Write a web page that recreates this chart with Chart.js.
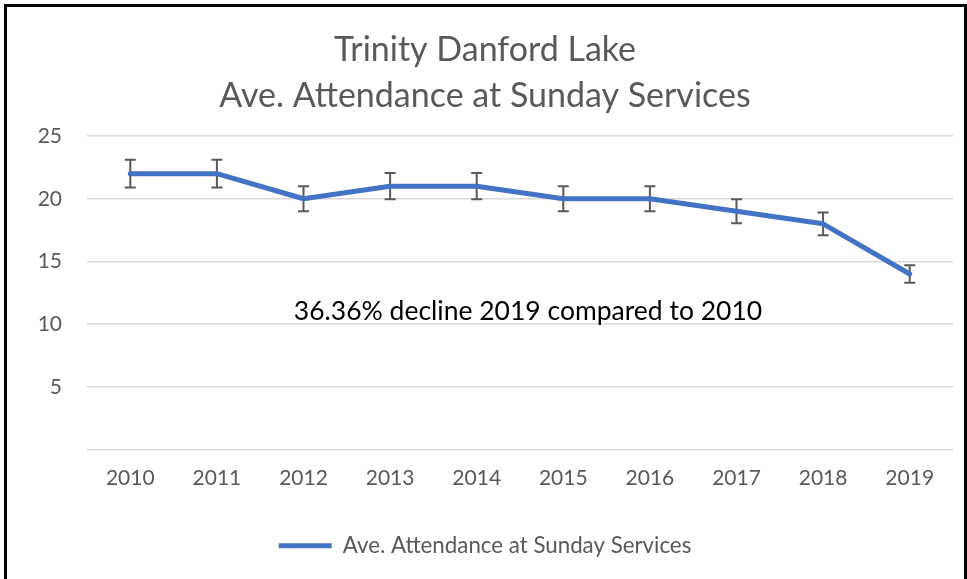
<!DOCTYPE html>
<html>
<head>
<meta charset="utf-8">
<script src="https://cdn.jsdelivr.net/npm/chart.js@4.4.1/dist/chart.umd.min.js"></script>
<style>
  html, body { margin: 0; padding: 0; background: #fff; }
  #wrap { width: 967px; height: 579px; position: relative; }
</style>
</head>
<body>
<div id="wrap"><canvas id="c" width="967" height="579"></canvas></div>
<script>
const years = ['2010', '2011', '2012', '2013', '2014', '2015', '2016', '2017', '2018', '2019'];
const attendance = [22, 22, 20, 21, 21, 20, 20, 19, 18, 14];
const errorAmounts = [1.1, 1.1, 1.0, 1.05, 1.05, 1.0, 1.0, 0.95, 0.9, 0.7];
const yTicks = [0, 5, 10, 15, 20, 25];
const titleLines = ['Trinity Danford Lake', 'Ave. Attendance at Sunday Services'];
const seriesName = 'Ave. Attendance at Sunday Services';
const annotationText = '36.36% decline 2019 compared to 2010';

const FONT = 'Lato, "Open Sans", sans-serif';
const GREY = '#595959';

const frameAndNotes = {
  id: 'frameAndNotes',
  beforeDatasetsDraw(chart) {
    const ctx = chart.ctx;
    const xs = chart.scales.x, ys = chart.scales.y;
    ctx.save();
    ctx.strokeStyle = '#595959';
    ctx.lineWidth = 2;
    attendance.forEach((v, i) => {
      const x = xs.getPixelForValue(i);
      const yTop = ys.getPixelForValue(v + errorAmounts[i]);
      const yBot = ys.getPixelForValue(v - errorAmounts[i]);
      ctx.beginPath();
      ctx.moveTo(x, yTop); ctx.lineTo(x, yBot);
      ctx.moveTo(x - 5.5, yTop); ctx.lineTo(x + 5.5, yTop);
      ctx.moveTo(x - 5.5, yBot); ctx.lineTo(x + 5.5, yBot);
      ctx.stroke();
    });
    ctx.restore();
  },
  afterDraw(chart) {
    const ctx = chart.ctx;
    ctx.save();
    ctx.fillStyle = '#000';
    ctx.font = '26.5px ' + FONT;
    ctx.textAlign = 'center';
    ctx.textBaseline = 'middle';
    ctx.fillText(annotationText, 528, 311);
    ctx.strokeStyle = '#000';
    ctx.lineWidth = 3;
    ctx.strokeRect(5.5, 5.5, 960, 620);
    ctx.restore();
  }
};

new Chart(document.getElementById('c'), {
  type: 'line',
  data: {
    labels: years,
    datasets: [{
      label: seriesName,
      data: attendance,
      borderColor: '#4472C4',
      backgroundColor: '#4472C4',
      borderWidth: 5,
      borderCapStyle: 'round',
      borderJoinStyle: 'round',
      pointRadius: 0,
      pointHoverRadius: 0,
      tension: 0,
      fill: false
    }]
  },
  options: {
    responsive: false,
    animation: false,
    devicePixelRatio: 1,
    layout: { padding: { left: 17, right: 14, top: 0, bottom: 12 } },
    plugins: {
      title: {
        display: true,
        text: titleLines,
        color: GREY,
        font: { family: FONT, size: 34, weight: 'normal', lineHeight: 46 / 34 },
        padding: { top: 27, bottom: 17 }
      },
      legend: {
        display: true,
        position: 'bottom',
        labels: {
          color: GREY,
          font: { family: FONT, size: 22.3 },
          usePointStyle: true,
          pointStyle: 'line',
          pointStyleWidth: 53,
          padding: 10
        }
      },
      tooltip: { enabled: false }
    },
    scales: {
      x: {
        offset: true,
        grid: { display: false, drawTicks: false },
        border: { display: false },
        ticks: { color: GREY, font: { family: FONT, size: 21 }, padding: 16, maxRotation: 0 },
        afterFit(s) { s.height = 75; }
      },
      y: {
        min: 0,
        max: 25,
        afterBuildTicks(s) { s.ticks = yTicks.map(v => ({ value: v })); },
        grid: { color: '#d9d9d9', lineWidth: 1.5, drawTicks: false },
        border: { display: false },
        ticks: {
          color: GREY,
          font: { family: FONT, size: 21 },
          padding: 25,
          callback: v => (v === 0 ? '' : String(v))
        },
        afterFit(s) { s.width = 70; }
      }
    }
  },
  plugins: [frameAndNotes]
});
</script>
</body>
</html>
